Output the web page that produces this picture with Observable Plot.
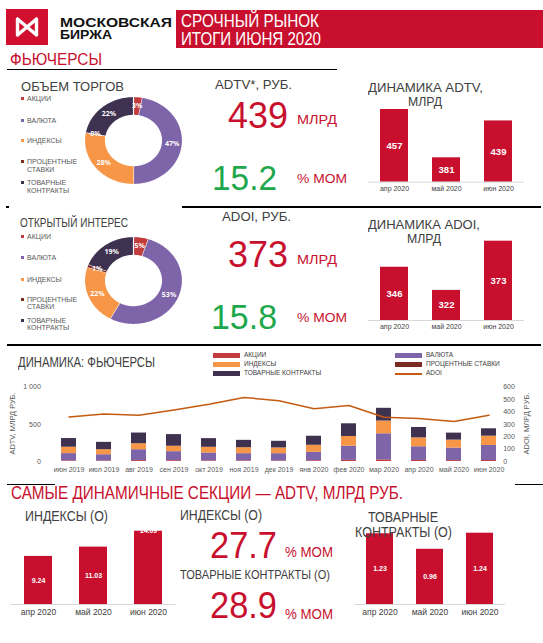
<!DOCTYPE html>
<html><head><meta charset="utf-8">
<script src="https://cdn.jsdelivr.net/npm/d3@7"></script>
<script src="https://cdn.jsdelivr.net/npm/@observablehq/plot@0.6"></script>
<style>
body{margin:0;background:#fff;}
#root{position:relative;width:543px;height:643px;overflow:hidden;font-family:"Liberation Sans",Arial,sans-serif;}
.t{position:absolute;white-space:nowrap;line-height:1;transform-origin:0 50%;}
#root svg{position:absolute;}
</style></head><body><div id="root"></div>
<script>
// ---------- DATA ----------
const recentMonths = ["апр 2020", "май 2020", "июн 2020"];
const adtvRecent = [457, 381, 439];
const adoiRecent = [346, 322, 373];
const sectors = ["АКЦИИ", "ВАЛЮТА", "ИНДЕКСЫ", "ПРОЦЕНТНЫЕ СТАВКИ", "ТОВАРНЫЕ КОНТРАКТЫ"];
const sectorColors = ["#c23b3d", "#7e64a9", "#f79646", "#7a2b22", "#3f3150"];
const volumeShare = [3, 47, 28, 0, 22];
const oiShare = [5, 53, 22, 1, 19];
const months = ["июн 2019", "июл 2019", "авг 2019", "сен 2019", "окт 2019", "ноя 2019", "дек 2019",
  "янв 2020", "фев 2020", "мар 2020", "апр 2020", "май 2020", "июн 2020"];
const akcii      = [9, 8, 12, 11, 9, 9, 8, 10, 15, 22, 14, 12, 13];
const valuta     = [97, 83, 146, 121, 105, 96, 97, 113, 190, 350, 184, 168, 202];
const indeksy    = [85, 67, 80, 72, 76, 80, 76, 94, 130, 170, 118, 106, 124];
const procStavki = [1, 1, 1, 1, 1, 1, 1, 1, 1, 2, 2, 1, 1];
const tovarnye   = [116, 98, 143, 156, 116, 98, 89, 121, 170, 170, 139, 94, 99];
const adoiLine   = [359, 383, 372, 415, 461, 515, 490, 424, 451, 356, 346, 322, 373];
const indexValues = [9.24, 11.03, 14.09];
const commodityValues = [1.23, 0.96, 1.24];

const RED = "#c8102e", GREEN = "#1ea84b", GRAY = "#404040", LGRAY = "#595959";
const root = document.getElementById("root");

// ---------- HELPERS ----------
function T(str, x, cy, size, color, o = {}) {
  const d = document.createElement("div");
  d.className = "t";
  d.textContent = str;
  d.style.fontSize = size + "px";
  d.style.color = color;
  d.style.top = (cy - size / 2) + "px";
  if (o.bold) d.style.fontWeight = "bold";
  root.appendChild(d);
  let w = d.getBoundingClientRect().width;
  if (o.w) { d.style.transform = `scaleX(${o.w / w})`; w = o.w; }
  d.style.left = (o.center ? x - w / 2 : x) + "px";
  return d;
}
function box(x, y, w, h, color) {
  const d = document.createElement("div");
  Object.assign(d.style, {position: "absolute", left: x + "px", top: y + "px", width: w + "px", height: h + "px", background: color});
  root.appendChild(d);
}
function place(svg, left, top) {
  svg.style.left = left + "px"; svg.style.top = top + "px";
  svg.style.background = "transparent";
  root.appendChild(svg);
}

// ---------- HEADER ----------
box(6, 9, 42, 36, "#d0102e");
root.insertAdjacentHTML("beforeend",
  `<svg width="42" height="36" style="left:6px;top:9px" viewBox="0 0 42 36">
   <path d="M11.5,10 L11.5,26 M30.5,10 L30.5,26 M11.5,10 Q21,18 30.5,26 M30.5,10 Q21,18 11.5,26" stroke="#fff" stroke-width="3.4" fill="none" stroke-linecap="round" stroke-linejoin="round"/></svg>`);
T("МОСКОВСКАЯ", 60, 23, 12.5, "#111", {bold: true, w: 112});
T("БИРЖА", 60, 35.5, 12.5, "#111", {bold: true, w: 52});
box(176, 10, 367, 38, RED);
T("СРОЧНЫЙ РЫНОК", 181, 21.5, 17.5, "#fff", {w: 138});
T("ИТОГИ ИЮНЯ 2020", 181, 40, 17.5, "#fff", {w: 140});
T("ФЬЮЧЕРСЫ", 10, 59.5, 16, RED, {w: 92});
box(7, 68.5, 330, 1.5, "#000");
box(182, 206, 359, 1.5, "#000");
box(6, 206, 3, 1.5, "#000");
box(7, 344, 534, 1.5, "#000");
box(7, 483.5, 48, 1.5, "#000");
box(515, 483.5, 28, 1.5, "#000");

// ---------- DONUTS ----------
function donut(shares, left, top) {
  const data = shares.map((v, i) => ({name: sectors[i], v}));
  const arcs = d3.pie().sort(null).value(d => d.v)(data);
  const rIn = 0.57, pts = [], labels = [];
  arcs.forEach(a => {
    const n = Math.max(2, Math.ceil((a.endAngle - a.startAngle) / 0.02));
    for (let k = 0; k <= n; k++) { const t = a.startAngle + (a.endAngle - a.startAngle) * k / n; pts.push({name: a.data.name, x: Math.sin(t), y: Math.cos(t)}); }
    for (let k = n; k >= 0; k--) { const t = a.startAngle + (a.endAngle - a.startAngle) * k / n; pts.push({name: a.data.name, x: rIn * Math.sin(t), y: rIn * Math.cos(t)}); }
    const m = (a.startAngle + a.endAngle) / 2;
    labels.push({x: 0.79 * Math.sin(m), y: 0.79 * Math.cos(m), t: a.data.v + "%"});
  });
  const svg = Plot.plot({
    width: 98, height: 88, margin: 0,
    x: {domain: [-1, 1], axis: null}, y: {domain: [-1, 1], axis: null},
    color: {domain: sectors, range: sectorColors},
    marks: [
      Plot.line(pts, {x: "x", y: "y", z: "name", fill: "name", stroke: "#fff", strokeWidth: 1.2, curve: "linear"}),
      Plot.text(labels, {x: "x", y: "y", text: "t", fill: "#fff", fontWeight: "bold", fontSize: 7})
    ]
  });
  place(svg, left, top);
}
donut(volumeShare, 84, 96);
donut(oiShare, 84, 236);

function sectorLegend(ys) {
  const lines = [["АКЦИИ"], ["ВАЛЮТА"], ["ИНДЕКСЫ"], ["ПРОЦЕНТНЫЕ", "СТАВКИ"], ["ТОВАРНЫЕ", "КОНТРАКТЫ"]];
  lines.forEach((l, i) => {
    box(21, ys[i][0] - 1.5, 3, 3, sectorColors[i]);
    l.forEach((s, j) => T(s, 27, ys[i][j], 7, LGRAY));
  });
}
T("ОБЪЕМ ТОРГОВ", 21, 86, 13, GRAY, {w: 103});
sectorLegend([[98.3], [120.7], [140.7], [161.7, 169.3], [182.7, 190.7]]);
T("ОТКРЫТЫЙ ИНТЕРЕС", 20, 222.5, 12, GRAY, {w: 108});
sectorLegend([[236], [257.3], [279], [299.3, 306.7], [320, 327.3]]);

// ---------- KPI texts ----------
T("ADTV*, РУБ.", 215, 84, 13, GRAY, {w: 77});
T("439", 228, 115, 37, RED, {w: 60});
T("МЛРД", 297, 119, 13, RED, {w: 40});
T("15.2", 212, 177.5, 35, GREEN, {w: 65});
T("% МОМ", 297, 178, 13, RED, {w: 50});
T("ADOI, РУБ.", 222, 216, 13, GRAY, {w: 69});
T("373", 228, 254, 37, RED, {w: 60});
T("МЛРД", 297, 259, 13, RED, {w: 40});
T("15.8", 211, 316, 35, GREEN, {w: 66});
T("% МОМ", 297, 317, 13, RED, {w: 50});

// ---------- SMALL BAR CHARTS ----------
function smallBars({values, months, left, top, width, height, ml, mr, mt, mb, ymin, ymax, pi, fmt, topLabel}) {
  const data = values.map((v, i) => ({m: months[i], v}));
  const small = topLabel !== undefined;
  const svg = Plot.plot({
    width, height, marginLeft: ml, marginRight: mr, marginTop: mt, marginBottom: mb,
    style: {fontFamily: "Liberation Sans, Arial, sans-serif"},
    x: {domain: months, paddingInner: pi, paddingOuter: pi / 2, label: null},
    y: {domain: [ymin, ymax], axis: null},
    marks: [
      Plot.barY(data, {x: "m", y1: () => ymin, y2: "v", fill: RED}),
      Plot.ruleY([ymin], {stroke: "#d9d9d9", strokeWidth: 1}),
      Plot.text(data, {x: "m", y: d => (topLabel && d.v === ymax) ? d.v : (ymin + d.v) / 2,
        text: d => fmt(d.v), fill: "#fff", fontWeight: "bold", fontSize: small ? 7 : 9.5}),
      Plot.axisX({tickSize: 0, tickPadding: 4, fontSize: small ? 8.5 : 7, fill: GRAY, label: null})
    ]
  });
  place(svg, left, top);
}
smallBars({values: adtvRecent, months: recentMonths, left: 355, top: 100, width: 188, height: 100,
  ml: 13, mr: 19, mt: 9, mb: 18.3, ymin: 342.6, ymax: 457, pi: 0.46, fmt: d => d});
smallBars({values: adoiRecent, months: recentMonths, left: 355, top: 230, width: 188, height: 110,
  ml: 13, mr: 19, mt: 10.7, mb: 20, ymin: 290.8, ymax: 373, pi: 0.46, fmt: d => d});
smallBars({values: indexValues, months: recentMonths, left: 0, top: 530, width: 180, height: 95,
  ml: 9.9, mr: 4.4, mt: 0.7, mb: 21, ymin: 0, ymax: 14.09, pi: 0.484, fmt: d3.format(".2f"), topLabel: true});
smallBars({values: commodityValues, months: recentMonths, left: 350, top: 530, width: 193, height: 95,
  ml: 4.6, mr: 37.9, mt: 2.7, mb: 21, ymin: 0, ymax: 1.24, pi: 0.46, fmt: d3.format(".2f"), topLabel: false});

T("ДИНАМИКА ADTV,", 425, 87.5, 13.5, GRAY, {w: 115, center: true});
T("МЛРД", 425, 101.7, 13.5, GRAY, {w: 34, center: true});
T("ДИНАМИКА ADOI,", 424, 225, 13.5, GRAY, {w: 112, center: true});
T("МЛРД", 424, 239, 13.5, GRAY, {w: 34, center: true});

// ---------- DYNAMICS CHART ----------
const seriesArr = [akcii, valuta, indeksy, procStavki, tovarnye];
const dyn = months.flatMap((m, i) => sectors.map((s, j) => ({m, s, v: seriesArr[j][i]})));
const adoiData = months.map((m, i) => ({m, v: adoiLine[i]}));
const k = 1000 / 600;
const space = d3.formatLocale({thousands: "\u00a0", grouping: [3], decimal: ",", currency: ["", ""]}).format(",");
const dynSvg = Plot.plot({
  width: 543, height: 100, marginLeft: 48.3, marginRight: 34.3, marginTop: 8.5, marginBottom: 17,
  style: {fontFamily: "Liberation Sans, Arial, sans-serif"},
  x: {domain: months, paddingInner: 0.58, paddingOuter: 0.29, label: null},
  y: {domain: [0, 1000], label: null},
  color: {domain: sectors, range: sectorColors},
  marks: [
    Plot.barY(dyn, {x: "m", y: "v", fill: "s"}),
    Plot.line(adoiData, {x: "m", y: d => d.v * k, stroke: "#c55a11", strokeWidth: 1.5}),
    Plot.axisX({tickSize: 0, tickPadding: 6, fontSize: 7, fill: LGRAY, label: null}),
    Plot.axisY([0, 500, 1000], {anchor: "left", tickSize: 0, tickPadding: 8, fontSize: 7, fill: LGRAY, tickFormat: space, label: null}),
    Plot.axisY(d3.range(0, 601, 100), {anchor: "right", y: d => d * k, tickFormat: d => d, tickSize: 0, tickPadding: -6, textAnchor: "start", fontSize: 7, fill: LGRAY, label: null})
  ]
});
place(dynSvg, 0, 378);
T("ДИНАМИКА: ФЬЮЧЕРСЫ", 18, 362, 14, GRAY, {w: 137});
// rotated axis titles
function rotText(str, cx, cy, size, w) {
  const d = document.createElement("div");
  d.className = "t"; d.textContent = str; d.style.fontSize = size + "px"; d.style.color = LGRAY;
  root.appendChild(d);
  const mw = d.getBoundingClientRect().width;
  d.style.left = (cx - mw / 2) + "px"; d.style.top = (cy - size / 2) + "px";
  d.style.transformOrigin = "50% 50%";
  d.style.transform = `rotate(-90deg) scaleX(${w / mw})`;
}
rotText("ADTV, МЛРД РУБ.", 12, 423, 7, 62);
rotText("ADOI, МЛРД РУБ.", 527, 423, 7, 62);
// legend
const legItems = [
  {s: 0, x: 213, cy: 355.5}, {s: 1, x: 395, cy: 355.5},
  {s: 2, x: 213, cy: 364.5}, {s: 3, x: 395, cy: 364.5},
  {s: 4, x: 213, cy: 373.5}
];
legItems.forEach(it => {
  box(it.x, it.cy - 2.2, 27, 4.4, sectorColors[it.s]);
  T(sectors[it.s], it.x + 31, it.cy, 6.5, GRAY);
});
box(395, 373, 27, 1.5, "#c55a11");
T("ADOI", 426, 373.5, 6.5, GRAY);

// ---------- BOTTOM SECTION ----------
T("САМЫЕ ДИНАМИЧНЫЕ СЕКЦИИ — ADTV, МЛРД РУБ.", 11, 493, 18, RED, {w: 392});
T("ИНДЕКСЫ (О)", 25, 516, 14, GRAY, {w: 83});
T("ИНДЕКСЫ (О)", 180, 515, 14, GRAY, {w: 82});
T("27.7", 210, 545, 37, RED, {w: 67});
T("% МОМ", 285, 552, 14, RED, {w: 48});
T("ТОВАРНЫЕ КОНТРАКТЫ (О)", 180, 574, 13, GRAY, {w: 150});
T("28.9", 210, 605, 37, RED, {w: 67});
T("% МОМ", 285, 614, 14, RED, {w: 48});
T("ТОВАРНЫЕ", 403, 517, 14, GRAY, {w: 70, center: true});
T("КОНТРАКТЫ (О)", 403, 532, 14, GRAY, {w: 97, center: true});
</script></body></html>
